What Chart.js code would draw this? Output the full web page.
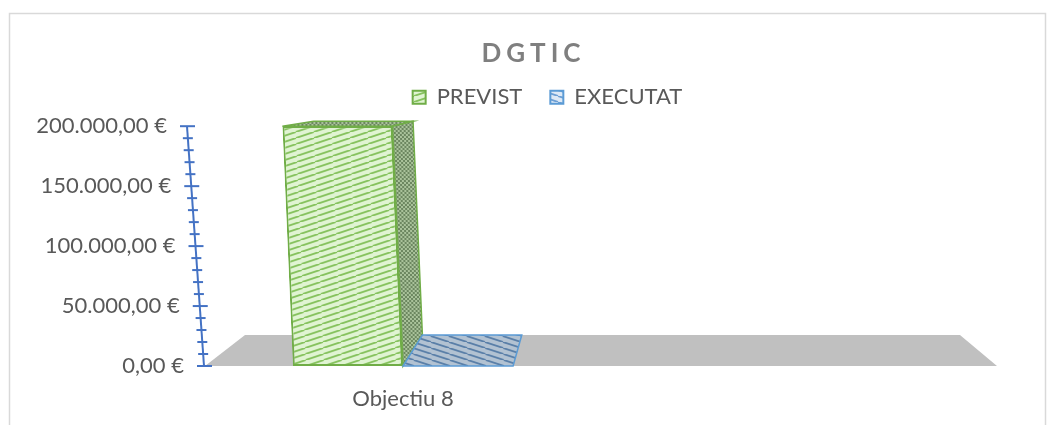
<!DOCTYPE html>
<html>
<head>
<meta charset="utf-8">
<script src="https://cdn.jsdelivr.net/npm/chart.js@4"></script>
<style>
  html, body { margin: 0; padding: 0; background: #fff; }
  #wrap { width: 1047px; height: 425px; }
</style>
</head>
<body>
<div id="wrap"><canvas id="myChart"></canvas></div>
<script>
// categories - the second row of the sheet is blank, it only widens the floor
const categories = ["Objectiu 8", ""];
// series values in euros
const previst = [200000, null];
const executat = [0, null];
// value axis labels
const yTickValues = [0, 50000, 100000, 150000, 200000];
const minorStep = 10000;

// Excel style currency: 200.000,00 €
function euro(v) {
    const parts = Number(v).toFixed(2).split(".");
    return parts[0].replace(/\B(?=(\d{3})+(?!\d))/g, ".") + "," + parts[1] + " €";
}

// striped fill, like the excel "wide diagonal" pattern
function stripes(bg, fg, down) {
    const c = document.createElement("canvas");
    c.width = 18;
    c.height = 6;
    const g = c.getContext("2d");
    g.fillStyle = bg;
    g.fillRect(0, 0, 18, 6);
    g.strokeStyle = fg;
    g.lineWidth = 1.8;
    for (const off of [-18, 0, 18]) {
        g.beginPath();
        if (down) {
            g.moveTo(off, 0);
            g.lineTo(off + 18, 6);
        } else {
            g.moveTo(off, 6);
            g.lineTo(off + 18, 0);
        }
        g.stroke();
    }
    return g.createPattern(c, "repeat");
}

// small crosshatch for the shaded side of the columns
function hatch(bg, fg) {
    const c = document.createElement("canvas");
    c.width = 4;
    c.height = 4;
    const g = c.getContext("2d");
    g.fillStyle = bg;
    g.fillRect(0, 0, 4, 4);
    g.fillStyle = fg;
    g.fillRect(0, 0, 2, 2);
    g.fillRect(2, 2, 2, 2);
    return g.createPattern(c, "repeat");
}

const green = "#70ad47";
const blue = "#5b9bd5";
const greenFront = stripes("#e0f4d2", "#86c25e", false);
const greenShade = hatch("#a9c29a", "#6c8760");
const blueFront = stripes("#dde9f6", "#6d9fd4", true);
const blueFloor = stripes("#b2c2d2", "#5a7fa8", true);

// extra faces for each dataset: [top, side]
const faceFills = [
    [greenShade, greenShade],
    [blueFloor, blueFloor],
];

// 3d look: how the back edge moves away from the front edge
const depth = {
    floorBack: 31,
    shiftLeft: 40,
    shiftRight: -37,
    topBack: 5,
    axisLean: 17,
    barLean: 10.5,
};
// the chart frame in excel is a bit wider than the picture
const headerShift = { title: 25, legend: 39 };

function backShift(a, x) {
    return depth.shiftLeft + (depth.shiftRight - depth.shiftLeft) * (x - a.left) / (a.right - a.left);
}

function backRise(a, y) {
    return depth.floorBack - (depth.floorBack - depth.topBack) * (a.bottom - y) / (a.bottom - a.top);
}

function back(a, x, y) {
    return [x + backShift(a, x), y - backRise(a, y)];
}

// columns lean a little to the left, as the perspective does in excel
function leanColumns(ctx, a) {
    const k = depth.barLean / (a.bottom - a.top);
    ctx.transform(1, 0, k, 1, -k * a.bottom, 0);
}

function poly(ctx, pts, fill, stroke) {
    ctx.beginPath();
    ctx.moveTo(pts[0][0], pts[0][1]);
    for (let i = 1; i < pts.length; i++) ctx.lineTo(pts[i][0], pts[i][1]);
    ctx.closePath();
    ctx.fillStyle = fill;
    ctx.fill();
    if (stroke) {
        ctx.strokeStyle = stroke;
        ctx.lineWidth = 1.5;
        ctx.stroke();
    }
}

const threeD = {
    id: "threeD",
    afterInit(chart) {
        // excel leaves more room between legend and plot than chart.js does
        const legend = chart.legend;
        const fit = legend.fit;
        legend.fit = function () {
            fit.call(this);
            this.height += 8;
        };
        // spaced out title letters
        const title = chart.titleBlock;
        const draw = title.draw;
        title.draw = function () {
            this.ctx.save();
            this.ctx.letterSpacing = "5px";
            draw.call(this);
            this.ctx.restore();
        };
    },
    afterLayout(chart) {
        chart.titleBlock.left += headerShift.title;
        chart.titleBlock.right += headerShift.title;
        chart.legend.left += headerShift.legend;
        chart.legend.right += headerShift.legend;
    },
    beforeDraw(chart) {
        // outer chart border, cropped by the picture
        const ctx = chart.ctx;
        ctx.save();
        ctx.strokeStyle = "#d9d9d9";
        ctx.lineWidth = 1.5;
        ctx.strokeRect(9.5, 13.5, 1036, 450);
        ctx.restore();
    },
    beforeDatasetsDraw(chart) {
        // grey floor
        const { ctx, chartArea: a } = chart;
        ctx.save();
        poly(ctx, [
            [a.left, a.bottom],
            [a.right, a.bottom],
            back(a, a.right, a.bottom),
            back(a, a.left, a.bottom),
        ], "#c0c0c0");
        ctx.restore();
    },
    beforeDatasetDraw(chart) {
        chart.ctx.save();
        leanColumns(chart.ctx, chart.chartArea);
    },
    afterDatasetDraw(chart) {
        chart.ctx.restore();
    },
    afterDatasetsDraw(chart) {
        const { ctx, chartArea: a } = chart;
        ctx.save();
        leanColumns(ctx, a);
        chart.data.datasets.forEach((ds, i) => {
            const meta = chart.getDatasetMeta(i);
            meta.data.forEach((bar, j) => {
                if (ds.data[j] === null) return;
                const p = bar.getProps(["x", "y", "base", "width"], true);
                const x1 = p.x - p.width / 2;
                const x2 = p.x + p.width / 2;
                // top face
                poly(ctx, [[x1, p.y], [x2, p.y], back(a, x2, p.y), back(a, x1, p.y)], faceFills[i][0], ds.borderColor);
                // right side face
                if (p.base - p.y > 1) {
                    poly(ctx, [[x2, p.y], [x2, p.base], back(a, x2, p.base), back(a, x2, p.y)], faceFills[i][1], ds.borderColor);
                }
            });
        });
        ctx.restore();
    },
    afterDraw(chart) {
        // leaning value axis with minor ticks every 10.000
        const { ctx, chartArea: a } = chart;
        const y = chart.scales.y;
        const axisX = (py) => a.left - 1 - depth.axisLean * (a.bottom - py) / (a.bottom - a.top);
        ctx.save();
        ctx.strokeStyle = "#4472c4";
        ctx.lineWidth = 2;
        ctx.beginPath();
        ctx.moveTo(axisX(a.bottom), a.bottom);
        ctx.lineTo(axisX(a.top), a.top);
        ctx.stroke();
        for (let v = y.min; v <= y.max; v += minorStep) {
            const py = y.getPixelForValue(v);
            const ax = axisX(py);
            const major = yTickValues.includes(v);
            ctx.beginPath();
            ctx.moveTo(ax - (major ? 7 : 5), py);
            ctx.lineTo(ax + (major ? 8 : 5), py);
            ctx.stroke();
        }
        ctx.restore();
    },
};

// the value labels lean with the axis
function leanLabels(s) {
    if (s._leaning) return;
    s._leaning = true;
    const compute = s._computeLabelItems;
    s._computeLabelItems = function (area) {
        const items = compute.call(this, area);
        items.forEach((it) => {
            const t = it.options.translation;
            t[0] -= depth.axisLean * (this.bottom - t[1]) / (this.bottom - this.top);
        });
        return items;
    };
}

Chart.defaults.font.family = "Lato, 'Noto Sans', sans-serif";
Chart.defaults.color = "#595959";

const data = {
    labels: categories,
    datasets: [
        {
            label: "PREVIST",
            data: previst,
            backgroundColor: greenFront,
            borderColor: green,
            borderWidth: 2,
            borderSkipped: false,
        },
        {
            label: "EXECUTAT",
            data: executat,
            backgroundColor: blueFront,
            borderColor: blue,
            borderWidth: 2,
            borderSkipped: false,
        },
    ],
};

const config = {
    type: "bar",
    data,
    plugins: [threeD],
    options: {
        responsive: true,
        maintainAspectRatio: false,
        animation: false,
        categoryPercentage: 0.556,
        barPercentage: 1.0,
        layout: { padding: { left: 20, right: 50, top: 0, bottom: 0 } },
        plugins: {
            title: {
                display: true,
                text: "DGTIC",
                color: "#7f7f7f",
                font: { size: 26, weight: "bold" },
                padding: { top: 38, bottom: -11 },
            },
            legend: {
                labels: {
                    boxWidth: 13,
                    boxHeight: 13,
                    font: { size: 22 },
                    color: "#595959",
                    padding: 28,
                },
            },
            tooltip: { enabled: false },
        },
        scales: {
            x: {
                grid: { display: false, drawTicks: false },
                border: { display: false },
                ticks: { font: { size: 22 }, color: "#595959", padding: 20 },
                afterFit: (s) => { s.height = 59; },
            },
            y: {
                min: 0,
                max: 200000,
                afterBuildTicks: (s) => { s.ticks = yTickValues.map((v) => ({ value: v })); },
                afterFit: (s) => { s.width = 185; },
                afterUpdate: leanLabels,
                grid: { display: false, drawTicks: false },
                border: { display: false },
                ticks: {
                    font: { size: 22 },
                    color: "#595959",
                    padding: 21,
                    callback: (v) => euro(v),
                },
            },
        },
    },
};

const myChart = new Chart(document.getElementById("myChart"), config);
</script>
</body>
</html>
